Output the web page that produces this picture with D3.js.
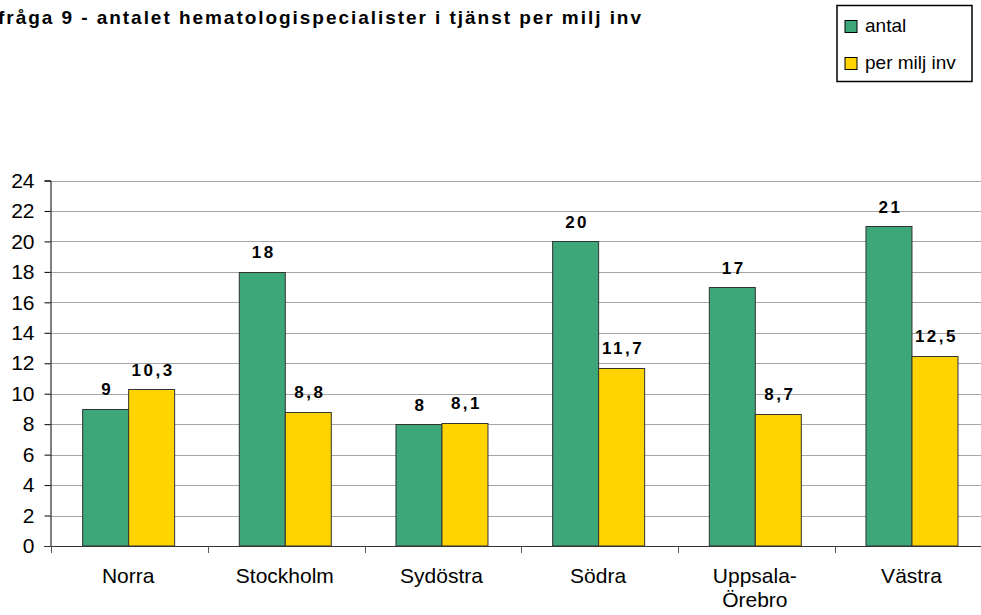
<!DOCTYPE html>
<meta charset="utf-8">
<title>Fråga 9</title>
<style>
body { margin: 0; background: #fff; }
svg { display: block; font-family: "Liberation Sans", Arial, sans-serif; }
.grid line { stroke: #a6a6a6; stroke-width: 1; }
.bar { stroke: #333; stroke-width: 1; }
.val { font-weight: bold; font-size: 17px; letter-spacing: 2.5px; text-anchor: middle; }
.tick-label { font-size: 21px; }
</style>
<svg width="981" height="615"></svg>
<script src="https://d3js.org/d3.v7.min.js"></script>
<script>

var title = "fråga 9 - antalet hematologispecialister i tjänst per milj inv";
var regions = ["Norra", "Stockholm", "Sydöstra", "Södra", "Uppsala-\nÖrebro", "Västra"];
var series = ["antal", "per milj inv"];
var antal = [9, 18, 8, 20, 17, 21];
var perMilj = [10.3, 8.8, 8.1, 11.7, 8.7, 12.5];
var yTicks = [0, 2, 4, 6, 8, 10, 12, 14, 16, 18, 20, 22, 24];
var colors = ["#3da77a", "#ffd400"];

var svg = d3.select("svg");

var plotLeft = 50.5, plotRight = 991.3, plotTop = 180.5, plotBottom = 546;

var x = d3.scaleBand().domain(regions).range([plotLeft + 0.8, plotRight]);
var groupW = 92;
var xs = d3.scaleBand().domain(series).range([0, groupW]);
var y = d3.scaleLinear().domain([0, 24]).range([plotBottom, plotTop]);

// gridlines
svg.append("g").attr("class", "grid")
  .selectAll("line")
  .data(yTicks.filter(function(d) { return d > 0; }))
  .enter().append("line")
    .attr("x1", plotLeft).attr("x2", 981)
    .attr("y1", function(d) { return Math.round(y(d)) + 0.5; })
    .attr("y2", function(d) { return Math.round(y(d)) + 0.5; });

// y axis
var yAxis = svg.append("g")
    .attr("transform", "translate(" + plotLeft + ",0)")
    .call(d3.axisLeft(y).tickValues(yTicks).tickSize(6).tickPadding(10));
yAxis.select(".domain").attr("stroke", "#000");
yAxis.selectAll(".tick line").attr("stroke", "#000");
yAxis.selectAll("text").attr("class", "tick-label").attr("fill", "#000");
yAxis.attr("font-size", null).attr("font-family", null);

// bars
var data = regions.map(function(r, i) { return { region: r, values: [antal[i], perMilj[i]] }; });

var groups = svg.append("g").selectAll("g")
  .data(data)
  .enter().append("g")
    .attr("transform", function(d) { return "translate(" + (x(d.region) + (x.bandwidth() - groupW) / 2 - 1.5) + ",0)"; });

groups.selectAll("rect")
  .data(function(d) { return d.values.map(function(v, j) { return { s: series[j], v: v, j: j }; }); })
  .enter().append("rect")
    .attr("class", "bar")
    .attr("x", function(d) { return xs(d.s) + 0.5; })
    .attr("width", xs.bandwidth())
    .attr("y", function(d) { return Math.round(y(d.v)) + 0.5; })
    .attr("height", function(d) { return plotBottom - Math.round(y(d.v)) - 0.5; })
    .attr("fill", function(d) { return colors[d.j]; });

groups.selectAll("text.val")
  .data(function(d) { return d.values.map(function(v, j) { return { s: series[j], v: v }; }); })
  .enter().append("text")
    .attr("class", "val")
    .attr("x", function(d) { return xs(d.s) + xs.bandwidth() / 2 + 2; })
    .attr("y", function(d) { return y(d.v) - 13.5; })
    .text(function(d) { return String(d.v).replace(".", ","); });

// x axis
var xAxis = svg.append("g").attr("transform", "translate(0," + plotBottom + ")");
xAxis.append("line")
    .attr("x1", plotLeft - 6).attr("x2", 981)
    .attr("y1", 0.5).attr("y2", 0.5)
    .attr("stroke", "#333");
xAxis.selectAll("line.tk")
  .data(regions)
  .enter().append("line")
    .attr("class", "tk")
    .attr("x1", function(d) { return Math.round(x(d)) + 0.5; })
    .attr("x2", function(d) { return Math.round(x(d)) + 0.5; })
    .attr("y1", 0).attr("y2", 7)
    .attr("stroke", "#555");

xAxis.selectAll("text.cat")
  .data(regions)
  .enter().append("text")
    .attr("class", "tick-label")
    .attr("text-anchor", "middle")
    .attr("transform", function(d) { return "translate(" + (x(d) + x.bandwidth() / 2 - 1.5) + ",37)"; })
    .each(function(d) {
      var t = d3.select(this);
      d.split("\n").forEach(function(line, i) {
        t.append("tspan").attr("x", 0).attr("dy", i ? 24 : 0).text(line);
      });
    });

// title
svg.append("text")
    .attr("x", -2).attr("y", 24)
    .attr("font-size", "19px").attr("font-weight", "bold")
    .attr("textLength", 643).attr("lengthAdjust", "spacing")
    .text(title);

// legend
var legend = svg.append("g");
legend.append("rect")
    .attr("x", 837).attr("y", 5.5).attr("width", 135).attr("height", 76)
    .attr("fill", "#fff").attr("stroke", "#000").attr("stroke-width", 1.5);
legend.selectAll("g")
  .data(series)
  .enter().append("g")
    .attr("transform", function(d, i) { return "translate(845," + (20.5 + i * 37) + ")"; })
    .each(function(d, i) {
      var g = d3.select(this);
      g.append("rect").attr("width", 12).attr("height", 12)
        .attr("fill", colors[i]).attr("stroke", "#000").attr("stroke-width", 1);
      g.append("text").attr("x", 20).attr("y", 11).attr("font-size", "19px").text(d);
    });

</script>
